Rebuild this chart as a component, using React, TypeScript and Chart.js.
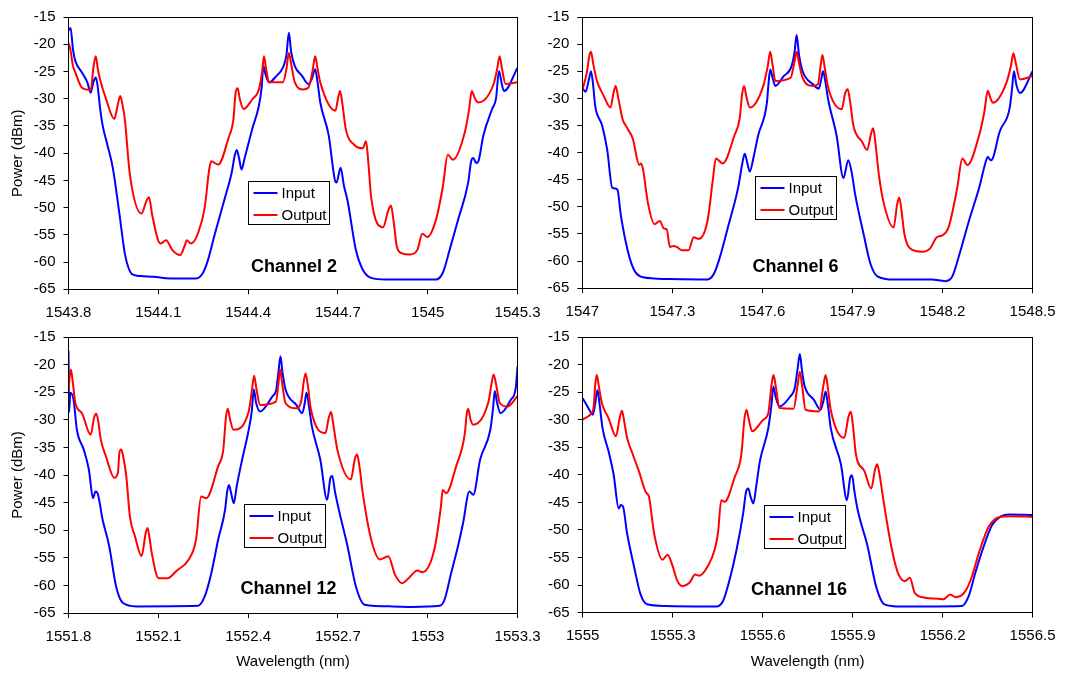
import React, { useEffect, useRef } from "react";
import { Chart, registerables } from "chart.js";

Chart.register(...registerables);

const FONT_FAMILY = '"Liberation Sans", Arial, Helvetica, sans-serif';

// Shared series names/colours and the power axis
const seriesNames = ["Input", "Output"];
const seriesColors = ["#0000ff", "#ff0000"];
const powerTicks = [-15, -20, -25, -30, -35, -40, -45, -50, -55, -60, -65];

// ---------- Channel 2 ----------
const ch2Ticks = [1543.8, 1544.1, 1544.4, 1544.7, 1545.0, 1545.3];
const ch2TickLabels = ["1543.8", "1544.1", "1544.4", "1544.7", "1545", "1545.3"];
const ch2InputNm = [
  1543.8, 1543.807, 1543.815, 1543.823, 1543.845, 1543.863, 1543.874, 1543.883, 1543.891, 1543.897,
  1543.905, 1543.914, 1543.93, 1543.948, 1543.97, 1543.988, 1544.0, 1544.012, 1544.05, 1544.084,
  1544.14, 1544.226, 1544.249, 1544.266, 1544.289, 1544.323, 1544.345, 1544.355, 1544.362, 1544.37,
  1544.378, 1544.388, 1544.414, 1544.436, 1544.445, 1544.451, 1544.458, 1544.47, 1544.495, 1544.516,
  1544.528, 1544.536, 1544.544, 1544.556, 1544.58, 1544.601, 1544.612, 1544.624, 1544.632, 1544.641,
  1544.669, 1544.69, 1544.695, 1544.709, 1544.72, 1544.732, 1544.76, 1544.783, 1544.811, 1544.86,
  1544.936, 1545.027, 1545.05, 1545.073, 1545.101, 1545.135, 1545.145, 1545.152, 1545.162, 1545.169,
  1545.186, 1545.215, 1545.228, 1545.238, 1545.248, 1545.255, 1545.3,
];
const ch2InputDbm = [
  -17.5, -17.0, -21.0, -23.1, -25.2, -27.0, -28.9, -27.0, -26.1, -27.5,
  -31.5, -34.9, -38.5, -42.7, -51.1, -58.4, -61.0, -62.2, -62.6, -62.7,
  -63.0, -63.0, -62.0, -59.6, -54.8, -48.1, -43.6, -40.5, -39.4, -41.0,
  -43.0, -41.0, -35.5, -31.3, -28.0, -24.0, -25.5, -27.0, -25.8, -24.3,
  -22.0, -17.9, -21.5, -24.0, -25.8, -27.3, -26.5, -24.6, -27.0, -30.7,
  -36.7, -45.0, -45.4, -42.7, -46.0, -48.7, -57.8, -61.4, -62.9, -63.2,
  -63.2, -63.2, -62.0, -57.8, -52.3, -45.4, -41.5, -40.9, -41.8, -41.5,
  -36.7, -31.9, -30.0, -24.9, -27.5, -28.6, -24.3,
];
const ch2OutputNm = [
  1543.8, 1543.806, 1543.815, 1543.823, 1543.845, 1543.874, 1543.884, 1543.891, 1543.898, 1543.905,
  1543.925, 1543.953, 1543.965, 1543.973, 1543.98, 1543.988, 1544.005, 1544.044, 1544.06, 1544.069,
  1544.08, 1544.107, 1544.126, 1544.147, 1544.173, 1544.188, 1544.195, 1544.209, 1544.232, 1544.255,
  1544.27, 1544.277, 1544.3, 1544.334, 1544.351, 1544.358, 1544.365, 1544.372, 1544.385, 1544.414,
  1544.436, 1544.447, 1544.453, 1544.46, 1544.47, 1544.516, 1544.528, 1544.536, 1544.545, 1544.556,
  1544.584, 1544.601, 1544.615, 1544.624, 1544.632, 1544.641, 1544.692, 1544.7, 1544.707, 1544.715,
  1544.726, 1544.755, 1544.783, 1544.794, 1544.802, 1544.811, 1544.851, 1544.868, 1544.877, 1544.887,
  1544.897, 1544.914, 1544.94, 1544.965, 1544.982, 1544.999, 1545.027, 1545.05, 1545.067, 1545.084,
  1545.124, 1545.138, 1545.147, 1545.158, 1545.169, 1545.22, 1545.232, 1545.24, 1545.248, 1545.26,
  1545.3,
];
const ch2OutputDbm = [
  -19.8, -20.9, -24.0, -25.2, -28.0, -28.4, -24.0, -22.2, -24.5, -26.4,
  -30.0, -33.7, -31.0, -29.5, -31.0, -33.7, -43.9, -51.1, -48.8, -48.1,
  -51.5, -56.6, -56.0, -57.8, -58.7, -57.0, -56.0, -56.6, -54.8, -50.0,
  -43.0, -41.5, -42.1, -37.3, -33.7, -29.0, -28.1, -30.0, -31.9, -30.1,
  -28.3, -25.0, -22.2, -24.5, -27.0, -27.0, -24.5, -21.6, -24.0, -27.0,
  -28.3, -28.0, -25.0, -22.2, -24.5, -27.0, -32.2, -30.0, -28.6, -31.0,
  -35.5, -38.5, -39.1, -37.8, -42.0, -48.1, -53.6, -50.5, -49.6, -53.0,
  -57.2, -58.4, -58.6, -57.8, -54.8, -55.4, -52.3, -46.3, -40.3, -41.2,
  -36.1, -32.0, -28.6, -30.0, -30.7, -27.3, -24.5, -22.2, -24.5, -27.3,
  -27.0,
];

// ---------- Channel 6 ----------
const ch6Ticks = [1547.0, 1547.3, 1547.6, 1547.9, 1548.2, 1548.5];
const ch6TickLabels = ["1547", "1547.3", "1547.6", "1547.9", "1548.2", "1548.5"];
const ch6InputNm = [
  1547.0, 1547.011, 1547.022, 1547.029, 1547.036, 1547.043, 1547.066, 1547.083, 1547.1, 1547.11,
  1547.117, 1547.128, 1547.151, 1547.173, 1547.202, 1547.281, 1547.417, 1547.439, 1547.462, 1547.485,
  1547.519, 1547.533, 1547.541, 1547.55, 1547.558, 1547.57, 1547.586, 1547.615, 1547.62, 1547.626,
  1547.633, 1547.643, 1547.671, 1547.697, 1547.707, 1547.714, 1547.722, 1547.734, 1547.768, 1547.788,
  1547.796, 1547.802, 1547.81, 1547.819, 1547.847, 1547.87, 1547.886, 1547.897, 1547.909, 1547.937,
  1547.96, 1547.983, 1548.039, 1548.164, 1548.209, 1548.232, 1548.254, 1548.288, 1548.322, 1548.345,
  1548.351, 1548.36, 1548.368, 1548.39, 1548.424, 1548.432, 1548.438, 1548.446, 1548.458, 1548.5,
];
const ch6InputDbm = [
  -28.0, -28.8, -26.5, -25.0, -27.5, -31.4, -35.0, -39.5, -46.5, -46.6,
  -46.8, -51.4, -58.0, -61.7, -63.0, -63.3, -63.4, -62.3, -58.6, -53.8,
  -46.5, -42.0, -40.2, -42.0, -43.5, -41.0, -36.8, -30.8, -27.5, -24.7,
  -26.0, -27.7, -25.9, -24.1, -21.5, -18.3, -22.0, -25.0, -27.4, -28.2,
  -26.5, -25.0, -27.0, -30.2, -36.8, -44.7, -41.4, -43.5, -47.7, -55.0,
  -60.5, -62.8, -63.4, -63.4, -63.7, -62.9, -59.2, -52.6, -46.5, -41.5,
  -40.8, -41.4, -41.0, -36.2, -31.7, -28.0, -25.0, -27.5, -29.0, -25.0,
];
const ch6OutputNm = [
  1547.0, 1547.015, 1547.024, 1547.029, 1547.036, 1547.049, 1547.071, 1547.094, 1547.104, 1547.111,
  1547.12, 1547.134, 1547.151, 1547.168, 1547.19, 1547.195, 1547.202, 1547.219, 1547.241, 1547.258,
  1547.272, 1547.281, 1547.292, 1547.305, 1547.315, 1547.332, 1547.354, 1547.371, 1547.388, 1547.417,
  1547.435, 1547.445, 1547.468, 1547.507, 1547.524, 1547.533, 1547.539, 1547.546, 1547.558, 1547.603,
  1547.618, 1547.626, 1547.633, 1547.643, 1547.694, 1547.706, 1547.714, 1547.722, 1547.734, 1547.768,
  1547.785, 1547.794, 1547.8, 1547.808, 1547.819, 1547.864, 1547.876, 1547.884, 1547.892, 1547.903,
  1547.932, 1547.949, 1547.962, 1547.969, 1547.976, 1547.988, 1548.005, 1548.037, 1548.049, 1548.056,
  1548.064, 1548.073, 1548.102, 1548.13, 1548.158, 1548.181, 1548.198, 1548.22, 1548.249, 1548.266,
  1548.283, 1548.322, 1548.339, 1548.351, 1548.36, 1548.368, 1548.413, 1548.428, 1548.436, 1548.444,
  1548.458, 1548.5,
];
const ch6OutputDbm = [
  -28.5, -25.3, -22.0, -21.4, -23.5, -26.8, -29.5, -31.7, -29.0, -27.7,
  -30.0, -33.8, -35.6, -37.4, -42.3, -42.0, -43.0, -49.4, -53.2, -52.6,
  -54.0, -54.1, -57.4, -57.2, -57.4, -58.0, -58.0, -55.6, -55.9, -52.6,
  -45.0, -41.1, -42.0, -36.8, -33.8, -29.0, -27.7, -29.5, -31.7, -27.7,
  -24.0, -21.4, -23.5, -26.8, -26.2, -23.5, -21.4, -23.5, -26.2, -27.7,
  -27.4, -24.0, -22.0, -24.5, -28.0, -32.0, -29.0, -28.3, -30.5, -35.0,
  -38.0, -39.5, -36.5, -35.5, -38.0, -44.1, -49.5, -53.8, -49.5, -48.3,
  -51.0, -55.0, -58.0, -58.3, -57.7, -55.6, -55.3, -53.8, -46.5, -41.1,
  -42.3, -36.8, -32.6, -28.6, -30.0, -30.8, -27.1, -24.0, -21.7, -23.5,
  -26.5, -25.9,
];

// ---------- Channel 12 ----------
const ch12Ticks = [1551.8, 1552.1, 1552.4, 1552.7, 1553.0, 1553.3];
const ch12TickLabels = ["1551.8", "1552.1", "1552.4", "1552.7", "1553", "1553.3"];
const ch12InputNm = [
  1551.8, 1551.802, 1551.806, 1551.817, 1551.828, 1551.851, 1551.868, 1551.882, 1551.89, 1551.897,
  1551.914, 1551.936, 1551.959, 1551.982, 1552.027, 1552.232, 1552.255, 1552.277, 1552.3, 1552.323,
  1552.33, 1552.336, 1552.344, 1552.352, 1552.362, 1552.38, 1552.402, 1552.412, 1552.419, 1552.427,
  1552.44, 1552.482, 1552.493, 1552.501, 1552.508, 1552.515, 1552.525, 1552.561, 1552.581, 1552.589,
  1552.595, 1552.603, 1552.613, 1552.641, 1552.664, 1552.675, 1552.681, 1552.69, 1552.703, 1552.732,
  1552.76, 1552.789, 1552.88, 1552.948, 1553.039, 1553.056, 1553.078, 1553.101, 1553.118, 1553.139,
  1553.152, 1553.175, 1553.209, 1553.218, 1553.224, 1553.232, 1553.243, 1553.277, 1553.294, 1553.3,
];
const ch12InputDbm = [
  -17.5, -28.6, -25.1, -26.4, -31.8, -35.4, -39.0, -44.2, -43.0, -43.3,
  -48.1, -52.9, -60.2, -63.2, -63.8, -63.7, -62.0, -57.8, -51.7, -46.3,
  -43.0, -41.8, -43.5, -45.1, -42.0, -37.2, -31.8, -28.5, -24.5, -27.0,
  -28.5, -25.7, -24.8, -21.5, -18.5, -21.5, -24.5, -27.3, -28.8, -27.0,
  -25.1, -27.5, -31.2, -37.2, -44.5, -40.5, -40.2, -43.0, -46.3, -52.9,
  -60.2, -63.5, -63.8, -63.9, -63.7, -62.6, -57.8, -52.9, -48.7, -43.0,
  -43.6, -37.2, -31.8, -28.0, -24.8, -27.0, -28.8, -26.4, -24.2, -20.3,
];
const ch12OutputNm = [
  1551.8, 1551.808, 1551.815, 1551.823, 1551.845, 1551.874, 1551.886, 1551.893, 1551.9, 1551.908,
  1551.925, 1551.953, 1551.965, 1551.97, 1551.976, 1551.984, 1551.993, 1552.005, 1552.022, 1552.044,
  1552.058, 1552.064, 1552.071, 1552.078, 1552.101, 1552.13, 1552.164, 1552.198, 1552.226, 1552.243,
  1552.26, 1552.3, 1552.317, 1552.326, 1552.332, 1552.34, 1552.351, 1552.402, 1552.413, 1552.42,
  1552.428, 1552.44, 1552.493, 1552.501, 1552.507, 1552.514, 1552.525, 1552.561, 1552.578, 1552.586,
  1552.592, 1552.6, 1552.609, 1552.658, 1552.67, 1552.677, 1552.685, 1552.698, 1552.743, 1552.757,
  1552.764, 1552.772, 1552.783, 1552.811, 1552.84, 1552.868, 1552.891, 1552.914, 1552.936, 1552.965,
  1552.982, 1553.022, 1553.044, 1553.05, 1553.061, 1553.095, 1553.124, 1553.13, 1553.135, 1553.143,
  1553.152, 1553.203, 1553.213, 1553.22, 1553.228, 1553.241, 1553.266, 1553.3,
];
const ch12OutputDbm = [
  -24.5, -20.9, -23.5, -27.0, -28.8, -32.7, -29.5, -28.9, -30.5, -33.6,
  -36.6, -40.5, -39.6, -36.0, -35.4, -37.0, -40.2, -47.5, -51.1, -54.7,
  -50.5, -49.6, -51.5, -54.1, -58.7, -58.7, -57.2, -55.6, -51.7, -43.9,
  -44.2, -38.4, -35.4, -29.5, -28.0, -30.0, -31.8, -28.5, -24.5, -22.0,
  -24.5, -27.3, -26.7, -23.5, -20.9, -23.5, -27.0, -27.9, -26.4, -23.0,
  -21.6, -24.0, -27.9, -32.4, -29.5, -28.6, -31.0, -35.4, -40.8, -37.0,
  -36.3, -38.5, -43.3, -51.7, -55.3, -54.7, -58.1, -59.6, -58.7, -57.3,
  -57.6, -53.5, -45.7, -42.7, -43.3, -38.4, -32.4, -29.0, -28.0, -30.0,
  -30.9, -26.7, -23.5, -21.8, -23.5, -27.0, -27.6, -25.7,
];

// ---------- Channel 16 ----------
const ch16Ticks = [1555.0, 1555.3, 1555.6, 1555.9, 1556.2, 1556.5];
const ch16TickLabels = ["1555", "1555.3", "1555.6", "1555.9", "1556.2", "1556.5"];
const ch16InputNm = [
  1555.0, 1555.019, 1555.034, 1555.042, 1555.049, 1555.057, 1555.066, 1555.086, 1555.103, 1555.12,
  1555.127, 1555.134, 1555.148, 1555.171, 1555.193, 1555.215, 1555.277, 1555.445, 1555.468, 1555.49,
  1555.513, 1555.535, 1555.545, 1555.552, 1555.56, 1555.569, 1555.58, 1555.591, 1555.619, 1555.629,
  1555.636, 1555.644, 1555.656, 1555.692, 1555.707, 1555.716, 1555.724, 1555.731, 1555.739, 1555.771,
  1555.793, 1555.803, 1555.81, 1555.818, 1555.827, 1555.861, 1555.881, 1555.892, 1555.898, 1555.906,
  1555.917, 1555.95, 1555.978, 1556.006, 1556.062, 1556.264, 1556.287, 1556.309, 1556.337, 1556.365,
  1556.393, 1556.422, 1556.5,
];
const ch16InputDbm = [
  -26.1, -27.9, -29.1, -27.0, -24.6, -27.5, -31.5, -35.7, -39.9, -46.1,
  -45.5, -45.7, -50.6, -56.6, -61.7, -63.5, -63.8, -63.9, -62.9, -59.0,
  -53.6, -47.0, -43.0, -42.5, -44.0, -45.2, -41.5, -37.5, -31.5, -27.5,
  -24.0, -26.0, -27.6, -25.8, -24.3, -21.0, -18.1, -21.0, -23.7, -26.4,
  -28.2, -26.5, -24.9, -27.5, -31.5, -38.1, -44.6, -40.5, -40.1, -43.0,
  -46.4, -53.0, -60.2, -63.5, -63.9, -63.8, -62.0, -57.8, -53.0, -49.1,
  -47.6, -47.2, -47.3,
];
const ch16OutputNm = [
  1555.0, 1555.025, 1555.036, 1555.042, 1555.047, 1555.054, 1555.064, 1555.086, 1555.111, 1555.124,
  1555.131, 1555.139, 1555.148, 1555.165, 1555.187, 1555.21, 1555.221, 1555.238, 1555.266, 1555.283,
  1555.3, 1555.316, 1555.333, 1555.356, 1555.375, 1555.389, 1555.417, 1555.44, 1555.451, 1555.462,
  1555.473, 1555.507, 1555.529, 1555.539, 1555.546, 1555.554, 1555.565, 1555.602, 1555.619, 1555.629,
  1555.636, 1555.644, 1555.656, 1555.703, 1555.716, 1555.724, 1555.732, 1555.743, 1555.788, 1555.802,
  1555.81, 1555.818, 1555.827, 1555.872, 1555.886, 1555.894, 1555.902, 1555.911, 1555.939, 1555.962,
  1555.975, 1555.982, 1555.99, 1556.001, 1556.029, 1556.051, 1556.074, 1556.091, 1556.107, 1556.141,
  1556.186, 1556.203, 1556.225, 1556.244, 1556.276, 1556.298, 1556.321, 1556.354, 1556.393, 1556.426,
  1556.5,
];
const ch16OutputDbm = [
  -30.0, -29.1, -27.9, -23.5, -21.9, -24.0, -27.0, -29.7, -33.0, -29.5,
  -28.4, -30.5, -33.3, -36.0, -39.3, -43.1, -44.0, -50.6, -55.4, -54.5,
  -56.6, -59.3, -60.2, -59.6, -58.1, -58.3, -56.6, -53.6, -50.6, -44.6,
  -44.9, -40.4, -36.3, -30.0, -28.2, -30.0, -32.1, -30.0, -28.8, -24.0,
  -21.9, -24.0, -27.9, -28.0, -24.0, -21.3, -24.0, -28.2, -28.5, -24.0,
  -21.9, -24.5, -28.2, -33.3, -29.5, -28.5, -31.5, -36.3, -39.3, -42.5,
  -39.0, -38.1, -40.0, -44.0, -53.0, -57.8, -59.3, -58.7, -61.4, -62.3,
  -62.5, -62.6, -61.7, -62.2, -61.1, -58.4, -54.2, -49.4, -47.6, -47.5,
  -47.6,
];

type PanelSpec = {
  caption: string;
  ticks: number[];
  tickLabels: string[];
  input: [number[], number[]];
  output: [number[], number[]];
  // canvas placement
  left: number;
  top: number;
  width: number;
  height: number;
  axisW: number;
  axisH: number;
  padTop: number;
  padRight: number;
  yTitle: boolean;
  xTitle: boolean;
  keyDx: number;
  keyDy: number;
  captionDx: number;
  captionDy: number;
};

const panels: PanelSpec[] = [
  {
    caption: "Channel 2", ticks: ch2Ticks, tickLabels: ch2TickLabels,
    input: [ch2InputNm, ch2InputDbm], output: [ch2OutputNm, ch2OutputDbm],
    left: 0, top: 0, width: 550, height: 330, axisW: 68.5, axisH: 40.7, padTop: 13.3, padRight: 28.5,
    yTitle: true, xTitle: false, keyDx: 179.5, keyDy: 163.7, captionDx: 225.5, captionDy: 249.7,
  },
  {
    caption: "Channel 6", ticks: ch6Ticks, tickLabels: ch6TickLabels,
    input: [ch6InputNm, ch6InputDbm], output: [ch6OutputNm, ch6OutputDbm],
    left: 520, top: 0, width: 545, height: 330, axisW: 62.3, axisH: 41.8, padTop: 13.3, padRight: 30,
    yTitle: false, xTitle: false, keyDx: 172.7, keyDy: 159, captionDx: 213.2, captionDy: 249.7,
  },
  {
    caption: "Channel 12", ticks: ch12Ticks, tickLabels: ch12TickLabels,
    input: [ch12InputNm, ch12InputDbm], output: [ch12OutputNm, ch12OutputDbm],
    left: 0, top: 320, width: 550, height: 357, axisW: 68.5, axisH: 64, padTop: 16.8, padRight: 28.5,
    yTitle: true, xTitle: true, keyDx: 175.5, keyDy: 167.2, captionDx: 220, captionDy: 251.9,
  },
  {
    caption: "Channel 16", ticks: ch16Ticks, tickLabels: ch16TickLabels,
    input: [ch16InputNm, ch16InputDbm], output: [ch16OutputNm, ch16OutputDbm],
    left: 520, top: 320, width: 545, height: 357, axisW: 62.7, axisH: 64.4, padTop: 15, padRight: 28,
    yTitle: false, xTitle: true, keyDx: 181.3, keyDy: 168, captionDx: 216.3, captionDy: 253,
  },
];

// Draws the closed plot frame, the boxed key and the channel caption.
const frameAndKey = {
  id: "frameAndKey",
  afterDraw(chart: any, _args: any, opts: any) {
    const { ctx, chartArea: a } = chart;
    ctx.save();
    const l = Math.floor(a.left) + 0.5;
    const t = Math.floor(a.top) + 0.5;
    const r = Math.floor(a.right) + 0.5;
    const b = Math.floor(a.bottom) + 0.5;
    ctx.strokeStyle = "#000";
    ctx.lineWidth = 1;
    ctx.strokeRect(l, t, r - l, b - t);

    ctx.fillStyle = "#000";
    ctx.font = `bold 18px ${FONT_FAMILY}`;
    ctx.textAlign = "center";
    ctx.textBaseline = "middle";
    ctx.fillText(opts.caption, a.left + opts.captionDx, a.top + opts.captionDy);

    const kx = Math.round(a.left + opts.keyDx) + 0.5;
    const ky = Math.round(a.top + opts.keyDy) + 0.5;
    const kw = 81;
    const kh = 43;
    ctx.fillStyle = "#fff";
    ctx.fillRect(kx, ky, kw, kh);
    ctx.strokeStyle = "#000";
    ctx.lineWidth = 1;
    ctx.strokeRect(kx, ky, kw, kh);
    ctx.font = `15px ${FONT_FAMILY}`;
    ctx.textAlign = "left";
    chart.data.datasets.forEach((ds: any, i: number) => {
      const y = Math.round(ky + 11 + i * 22);
      ctx.strokeStyle = ds.borderColor;
      ctx.lineWidth = 2;
      ctx.beginPath();
      ctx.moveTo(kx + 5, y);
      ctx.lineTo(kx + 29, y);
      ctx.stroke();
      ctx.fillStyle = "#000";
      ctx.fillText(ds.label, kx + 33, y + 1);
    });
    ctx.restore();
  },
};

function SpectrumPanel({ spec }: { spec: PanelSpec }) {
  const ref = useRef<HTMLCanvasElement | null>(null);

  useEffect(() => {
    if (!ref.current) return;
    const toPoints = ([nm, dbm]: [number[], number[]]) => nm.map((x, i) => ({ x, y: dbm[i] }));
    const font = { family: FONT_FAMILY, size: 15 };
    const chart = new Chart(ref.current, {
      type: "line",
      data: {
        datasets: [spec.input, spec.output].map((series, i) => ({
          label: seriesNames[i],
          data: toPoints(series),
          borderColor: seriesColors[i],
          backgroundColor: seriesColors[i],
          borderWidth: 2,
          pointRadius: 0,
          fill: false,
          cubicInterpolationMode: "monotone" as const,
          order: i === 0 ? 1 : 0,
        })),
      },
      options: {
        responsive: false,
        animation: false,
        events: [],
        layout: { padding: { left: 0, top: spec.padTop, right: spec.padRight, bottom: 0 } },
        plugins: {
          legend: { display: false },
          tooltip: { enabled: false },
          frameAndKey: {
            caption: spec.caption,
            keyDx: spec.keyDx,
            keyDy: spec.keyDy,
            captionDx: spec.captionDx,
            captionDy: spec.captionDy,
          },
        } as any,
        scales: {
          x: {
            type: "linear",
            position: "bottom",
            min: spec.ticks[0],
            max: spec.ticks[spec.ticks.length - 1],
            afterBuildTicks: (s: any) => {
              s.ticks = spec.ticks.map((v) => ({ value: v }));
            },
            afterFit: (s: any) => {
              s.height = spec.axisH;
            },
            ticks: {
              autoSkip: false,
              maxRotation: 0,
              color: "#000",
              font,
              padding: 9.5,
              callback: (_v: any, i: number) => spec.tickLabels[i],
            },
            grid: { drawOnChartArea: false, drawTicks: true, tickLength: 5, color: "#000" },
            border: { display: false },
            title: {
              display: spec.xTitle,
              text: "Wavelength (nm)",
              color: "#000",
              font,
              padding: { top: 0, bottom: 6 },
            },
          },
          y: {
            type: "linear",
            min: -65,
            max: -15,
            afterBuildTicks: (s: any) => {
              s.ticks = powerTicks.map((v) => ({ value: v }));
            },
            afterFit: (s: any) => {
              s.width = spec.axisW;
            },
            ticks: {
              autoSkip: false,
              color: "#000",
              font,
              padding: 8,
              callback: (v: any) => String(v),
            },
            grid: { drawOnChartArea: false, drawTicks: true, tickLength: 5, color: "#000" },
            border: { display: false },
            title: {
              display: spec.yTitle,
              text: "Power (dBm)",
              color: "#000",
              font,
              padding: { top: 8.7, bottom: 0 },
            },
          },
        },
      },
      plugins: [frameAndKey],
    });
    return () => chart.destroy();
  }, [spec]);

  return (
    <canvas
      ref={ref}
      width={spec.width}
      height={spec.height}
      style={{ position: "absolute", left: spec.left, top: spec.top, width: spec.width, height: spec.height }}
    />
  );
}

export default function App() {
  return (
    <div style={{ position: "absolute", left: 0, top: 0, width: 1065, height: 677, background: "#fff" }}>
      {panels.map((p) => (
        <SpectrumPanel key={p.caption} spec={p} />
      ))}
    </div>
  );
}
